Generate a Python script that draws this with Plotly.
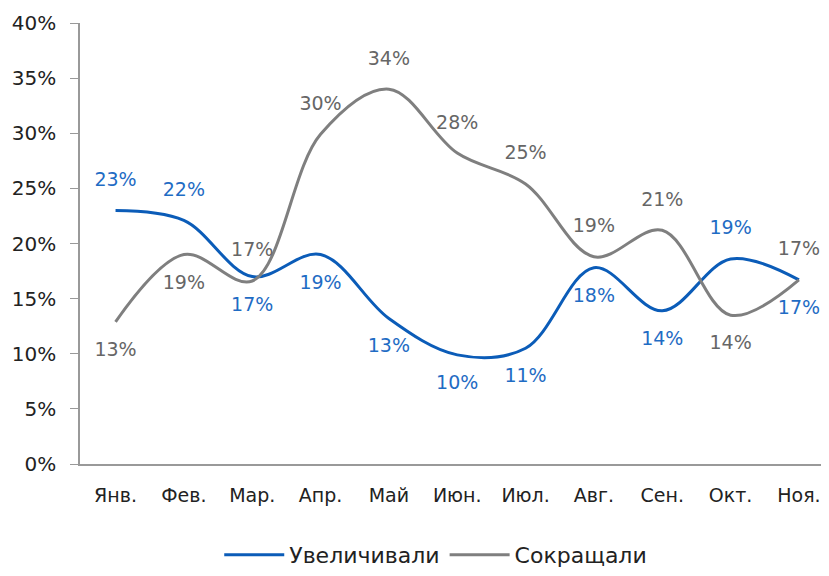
import plotly.graph_objects as go

months = ["Янв.", "Фев.", "Мар.", "Апр.", "Май", "Июн.", "Июл.", "Авг.", "Сен.", "Окт.", "Ноя."]
increased = [0.230, 0.221, 0.170, 0.190, 0.132, 0.099, 0.105, 0.178, 0.139, 0.186, 0.167]
reduced = [0.129, 0.190, 0.166, 0.299, 0.340, 0.282, 0.254, 0.188, 0.212, 0.135, 0.167]

blue_pos = ["top center", "top center", "bottom center", "bottom center", "bottom center", "bottom center",
            "bottom center", "bottom center", "bottom center", "top center", "bottom center"]
gray_pos = ["bottom center", "bottom center", "top center", "top center", "top center", "top center",
            "top center", "top center", "top center", "bottom center", "top center"]

FONT = "DejaVu Sans"

fig = go.Figure()
fig.add_trace(go.Scatter(
    x=months, y=increased, name="Увеличивали",
    mode="lines+markers+text",
    line=dict(color="#0B5CB8", width=3, shape="spline", smoothing=1),
    marker=dict(size=30, color="rgba(0,0,0,0)"),
    texttemplate="%{y:.0%}", textposition=blue_pos,
    textfont=dict(color="#1F6CC4", size=19, family=FONT),
))
fig.add_trace(go.Scatter(
    x=months, y=reduced, name="Сокращали",
    mode="lines+markers+text",
    line=dict(color="#7F7F7F", width=3, shape="spline", smoothing=1),
    marker=dict(size=30, color="rgba(0,0,0,0)"),
    texttemplate="%{y:.0%}", textposition=gray_pos,
    textfont=dict(color="#666666", size=19, family=FONT),
))

# page body adds an 8px offset, so the figure is 8px smaller than the window
fig.update_layout(
    width=821, height=568,
    margin=dict(l=72, r=0, t=15, b=112),
    plot_bgcolor="white", paper_bgcolor="white",
    font=dict(family=FONT, size=20, color="#222222"),
    showlegend=True,
    legend=dict(orientation="h", xref="container", yref="container",
                x=0.521, xanchor="center", y=0.0, yanchor="bottom",
                font=dict(size=22, color="#222222"), itemwidth=60),
    hovermode=False,
)
fig.update_xaxes(
    showline=True, linecolor="#999999", linewidth=1.5,
    ticks="", ticklabelstandoff=13, showgrid=False,
    range=[-0.52, 10.44], automargin=False,
    tickfont=dict(size=19),
)
fig.update_yaxes(
    range=[0, 0.4], dtick=0.05, tickformat=".0%",
    showline=True, linecolor="#999999", linewidth=1.5,
    ticks="outside", ticklen=8, tickcolor="#999999", ticklabelstandoff=10,
    showgrid=False, zeroline=False, automargin=False,
)

fig.write_html("out.html")
